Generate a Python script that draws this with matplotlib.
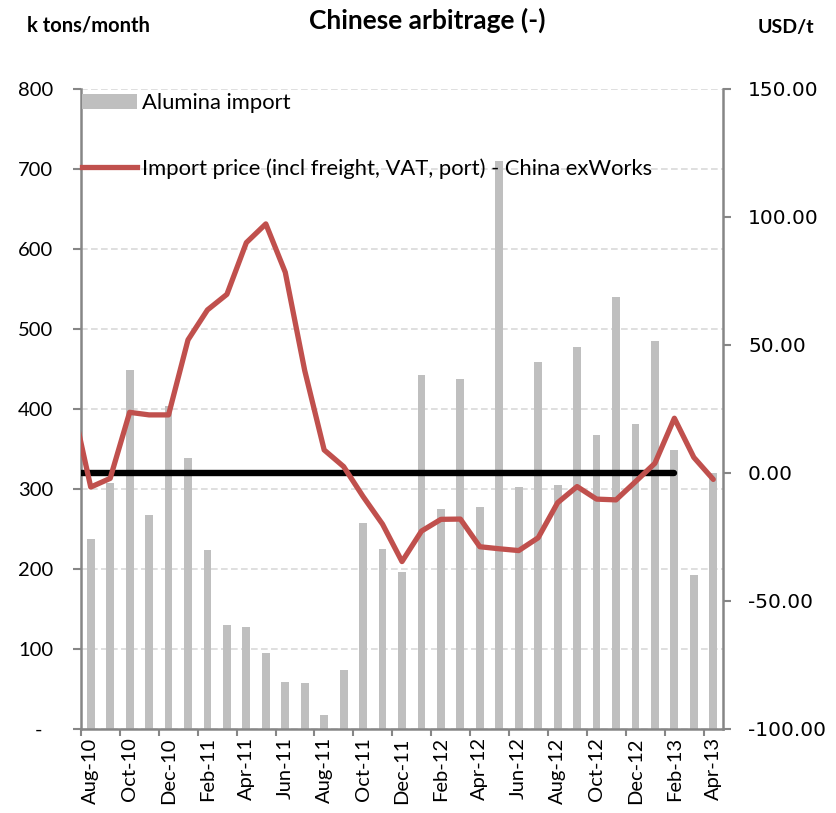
import matplotlib
matplotlib.use("Agg")
import matplotlib.pyplot as plt
from matplotlib.patches import Patch
from matplotlib.lines import Line2D

plt.rcParams["font.family"] = ["Lato", "DejaVu Sans"]

# Monthly categories
months = ["Aug-10", "Sep-10", "Oct-10", "Nov-10", "Dec-10", "Jan-11", "Feb-11",
          "Mar-11", "Apr-11", "May-11", "Jun-11", "Jul-11", "Aug-11", "Sep-11",
          "Oct-11", "Nov-11", "Dec-11", "Jan-12", "Feb-12", "Mar-12", "Apr-12",
          "May-12", "Jun-12", "Jul-12", "Aug-12", "Sep-12", "Oct-12", "Nov-12",
          "Dec-12", "Jan-13", "Feb-13", "Mar-13", "Apr-13"]

# Alumina imports, k tons/month
alumina_import = [238, 307, 449, 267, 404, 339, 224, 130, 127, 95, 59, 58, 18, 74,
                  258, 225, 196, 443, 275, 437, 278, 710, 303, 459, 305, 478, 368,
                  540, 381, 485, 349, 193, 320]

# Arbitrage, USD/t (series begins one month earlier, Jul-10)
price_start = -1
arbitrage = [29.0, -5.5, -2.1, 23.7, 22.7, 22.7, 52.0, 63.7, 69.8, 90.0, 97.3,
             78.4, 40.0, 9.0, 2.5, -9.2, -20.0, -34.6, -22.7, -18.1, -18.0,
             -28.8, -29.6, -30.3, -25.3, -11.6, -5.3, -10.2, -10.5, -3.4, 3.8,
             21.4, 6.1, -2.5]

zero_level = 0.0
zero_end = "Feb-13"

left_ticks = [0, 100, 200, 300, 400, 500, 600, 700, 800]
right_ticks = [-100, -50, 0, 50, 100, 150]

bar_color = "#BFBFBF"
line_color = "#C0504D"
axis_color = "#868686"
tick_font = 14.5

W, H = 836, 813
fig = plt.figure(figsize=(W / 100, H / 100), dpi=100)
ax = fig.add_axes([81 / W, 1 - 729 / H, (723 - 81) / W, (729 - 89) / H])

x = list(range(len(months)))
ax.bar(x, alumina_import, width=0.4, color=bar_color, zorder=2)
ax.set_xlim(-0.5, len(months) - 0.5)
ax.set_ylim(0, 800)
ax.set_yticks(left_ticks)
ax.set_yticklabels(["-  " if v == 0 else str(v) for v in left_ticks],
                   fontsize=tick_font)
ax.yaxis.grid(True, linestyle=(0, (4, 2)), color="#D9D9D9", linewidth=1.2)
ax.set_axisbelow(True)

label_idx = list(range(0, len(months), 2))
ax.set_xticks(label_idx)
ax.set_xticklabels([months[i] for i in label_idx], rotation=90,
                   fontsize=tick_font)
ax.set_xticks([i - 0.5 for i in label_idx], minor=True)
ax.tick_params(axis="x", which="major", length=0, pad=6)
ax.tick_params(axis="x", which="minor", length=5, width=1.5,
               color=axis_color, direction="out")
ax.tick_params(axis="y", length=6, width=1.5, color=axis_color, pad=14)

for s in ["top", "right"]:
    ax.spines[s].set_visible(False)
for s in ["left", "bottom"]:
    ax.spines[s].set_color(axis_color)
    ax.spines[s].set_linewidth(1.8)

ax2 = ax.twinx()
ax2.set_ylim(-100, 150)
ax2.set_yticks(right_ticks)
ax2.set_yticklabels([f"{v:.2f}" for v in right_ticks], fontsize=14.5,
                    family="DejaVu Sans")
ax2.tick_params(axis="y", length=6, width=1.5, color=axis_color, pad=12)
for s in ["top", "left", "bottom"]:
    ax2.spines[s].set_visible(False)
ax2.spines["right"].set_color(axis_color)
ax2.spines["right"].set_linewidth(1.8)

ax2.hlines(zero_level, price_start, months.index(zero_end), color="black",
           linewidth=4.6, capstyle="round", zorder=3)
xp = list(range(price_start, price_start + len(arbitrage)))
ax2.plot(xp, arbitrage, color=line_color, linewidth=3.8,
         solid_joinstyle="round", solid_capstyle="round", zorder=4)

handles = [Patch(facecolor=bar_color, edgecolor="none"),
           Line2D([], [], color=line_color, linewidth=3.8)]
leg_labels = ["Alumina import",
              "Import price (incl freight, VAT, port) - China exWorks"]
ax2.legend(handles, leg_labels, loc="upper left",
           bbox_to_anchor=(82 / W, 1 - 93 / H), bbox_transform=fig.transFigure,
           frameon=False, fontsize=15.8, handlelength=2.5,
           handletextpad=0.22, labelspacing=2.05, borderpad=0, borderaxespad=0)

fig.text(427 / W, 1 - 20 / H, "Chinese arbitrage (-)", ha="center",
         va="center", fontsize=19, fontweight="bold")
fig.text(88 / W, 1 - 25 / H, "k tons/month", ha="center", va="center",
         fontsize=14.5, fontweight="bold")
fig.text(786 / W, 1 - 28 / H, "USD/t", ha="center", va="center",
         fontsize=14, fontweight="bold")

fig.savefig("out.png", dpi=100)
